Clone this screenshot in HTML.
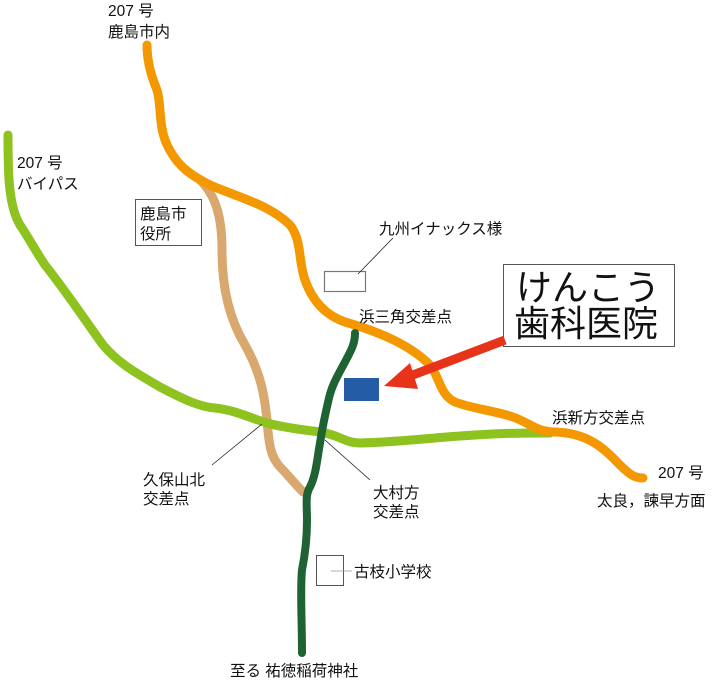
<!DOCTYPE html>
<html><head><meta charset="utf-8"><style>
html,body{margin:0;padding:0;background:#fff;}
svg{display:block;}
text{font-family:"Liberation Sans","Noto Sans CJK JP",sans-serif;font-size:15.5px;fill:#111;}
</style></head><body>
<svg width="721" height="680" viewBox="0 0 721 680" xmlns="http://www.w3.org/2000/svg">
<g fill="none" stroke-linecap="round" stroke-linejoin="round">
<path d="M200,180 C215,195 222,215 222,250 C222,290 230,320 245,345 C262,375 265,400 267,420 C269,445 270,458 283,470 C292,480 298,487 303,492" stroke="#d8a86e" stroke-width="9"/>
<path d="M8,135 C8,170 8,205 20,225 C30,240 35,250 45,265 C65,290 85,320 103,345 C120,365 140,375 160,387 C185,400 200,407 215,408 C235,410 250,418 267,423 C285,428 305,430 320,432 C340,435 345,443 360,443 C400,442 430,438 460,436 C500,433 520,433 550,433" stroke="#8dc21f" stroke-width="9"/>
<path d="M147,45 C147,60 150,72 155,85 C162,100 158,120 165,140 C175,165 190,175 210,185 C240,198 270,205 290,225 C302,240 298,260 305,280 C312,300 325,315 345,322 C380,332 410,345 430,365 C440,378 440,395 455,402 C470,408 490,410 510,416 C530,422 535,432 555,432 C590,433 605,450 620,465 C630,475 635,478 643,478" stroke="#f39800" stroke-width="9"/>
<path d="M355,333 C355,345 350,352 345,362 C338,375 332,385 329,398 C325,415 322,430 320,443 C317,460 316,475 310,487 C305,495 307,505 307,520 C307,540 305,555 302,570 C300,590 302,620 302,653" stroke="#1f6233" stroke-width="8"/>
</g>
<rect x="135.5" y="199.5" width="66" height="46" fill="#fff" stroke="#555" stroke-width="1"/>
<text x="140" y="219">鹿島市</text>
<text x="140" y="239">役所</text>
<rect x="324.5" y="271.5" width="41" height="20" fill="#fff" stroke="#777" stroke-width="1.2"/>
<line x1="393" y1="238" x2="358" y2="274" stroke="#222" stroke-width="0.8"/>
<text x="379" y="234">九州イナックス様</text>
<rect x="344" y="378" width="35" height="23" fill="#245ca6"/>
<rect x="503.5" y="264.5" width="171" height="82" fill="#fff" stroke="#555" stroke-width="1"/>
<text x="516" y="300" style="font-size:36px">けんこう</text>
<text x="514" y="336" style="font-size:36px">歯科医院</text>
<line x1="505" y1="340" x2="405" y2="378" stroke="#e6331a" stroke-width="9"/>
<polygon points="384,386 410,363 418,389" fill="#e6331a"/>
<text x="359" y="322">浜三角交差点</text>
<text x="552" y="423">浜新方交差点</text>
<text x="658" y="478">207 号</text>
<text x="597" y="506">太良，諫早方面</text>
<text x="108" y="16">207 号</text>
<text x="108" y="37">鹿島市内</text>
<text x="17" y="168">207 号</text>
<text x="17" y="189">バイパス</text>
<line x1="262" y1="424" x2="212" y2="465" stroke="#222" stroke-width="0.8"/>
<line x1="325" y1="440" x2="370" y2="480" stroke="#222" stroke-width="0.8"/>
<text x="143" y="485">久保山北</text>
<text x="143" y="504">交差点</text>
<text x="373" y="498">大村方</text>
<text x="373" y="517">交差点</text>
<rect x="316.5" y="555.5" width="27" height="30" fill="#fff" stroke="#555" stroke-width="1"/>
<line x1="331" y1="571" x2="352" y2="571" stroke="#999" stroke-width="0.8"/>
<text x="354" y="577">古枝小学校</text>
<text x="230" y="676">至る  祐徳稲荷神社</text>
</svg>
</body></html>
